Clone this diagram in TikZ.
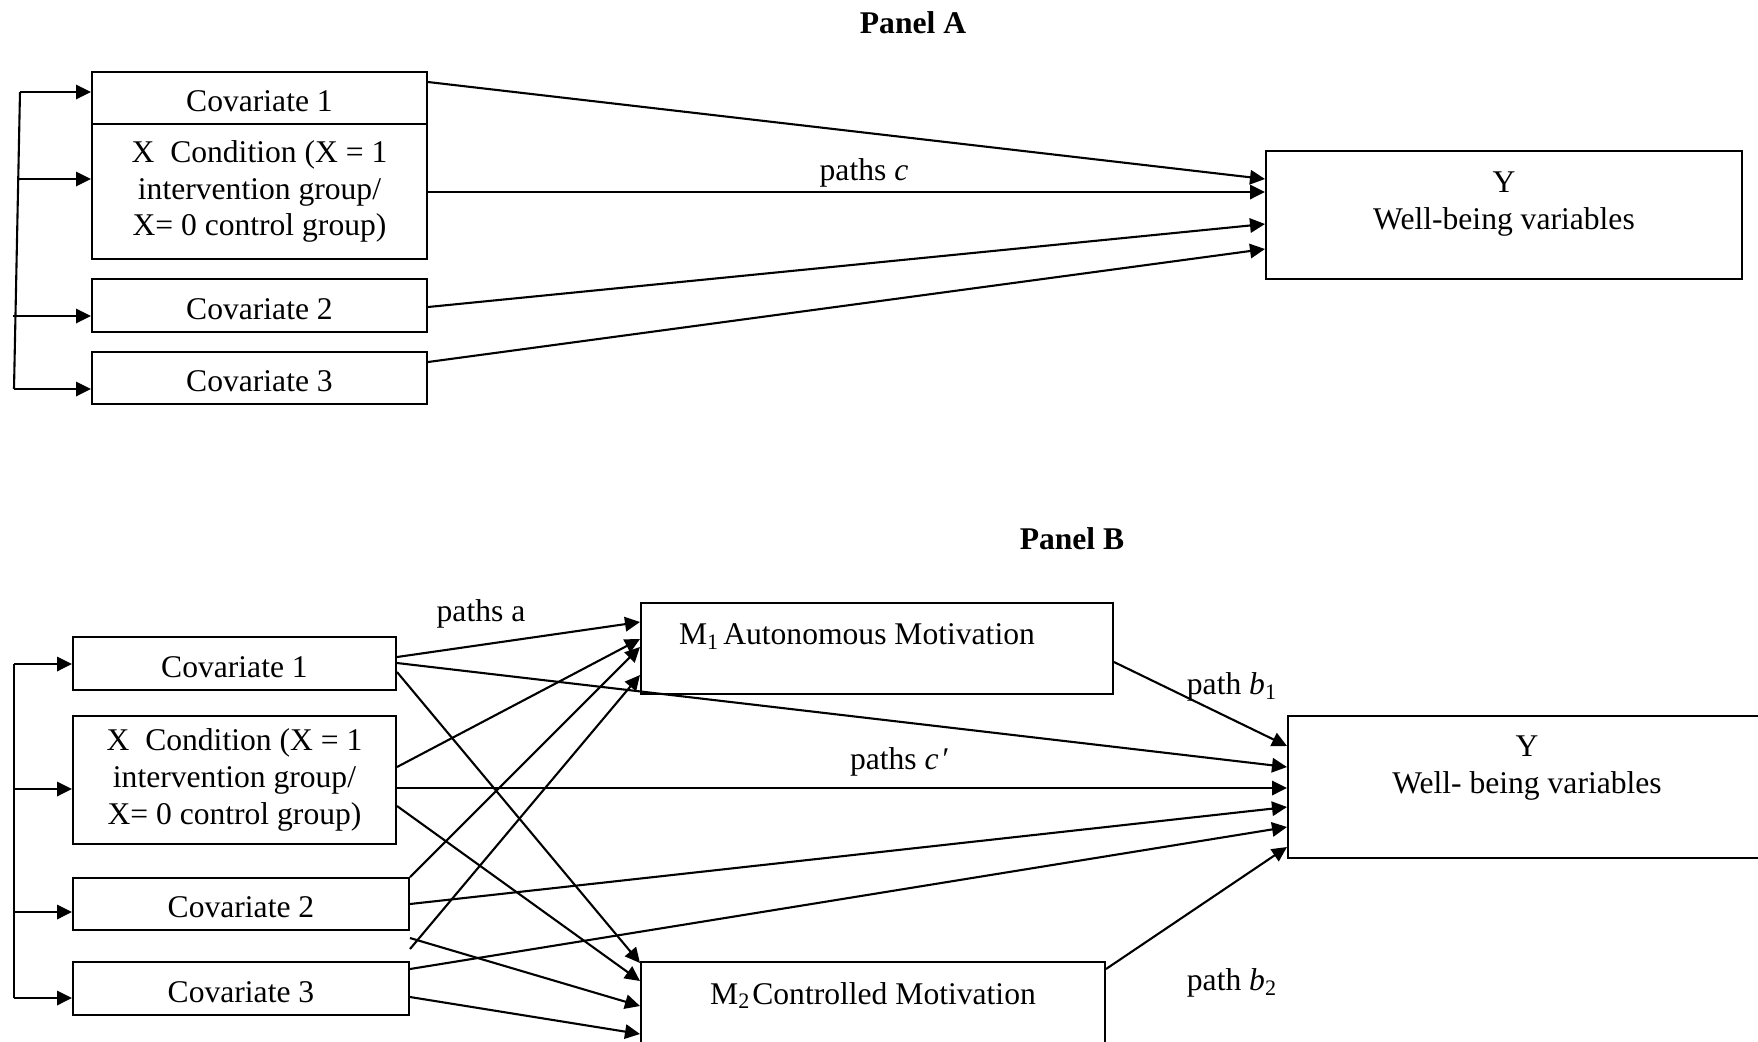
\documentclass[tikz,border=0pt]{standalone}
\usepackage{fontspec}
\setmainfont{Liberation Serif}
\usetikzlibrary{arrows.meta,calc}
\begin{document}
\begin{tikzpicture}[x=0.5pt,y=-0.5pt,
  txt/.style={font=\fontsize{15.8}{18.4}\selectfont},
  box/.style={draw,line width=1pt,inner sep=0pt,align=center,txt},
  oneline/.style={text height=14pt},
  lbl/.style={inner sep=0pt,align=center,txt},
  arr/.style={line width=1.05pt,-{Triangle[length=7.5pt,width=7.2pt]}},
  bus/.style={line width=1.05pt}]
\useasboundingbox (0,0) rectangle (1758,1041);
\clip (0,0) rectangle (1758,1041);

% ---------------- Panel A ----------------
\node[lbl,font=\fontsize{15.8}{18.4}\selectfont\bfseries] (pA) at (913,23) {Panel A};

\node[box,oneline,minimum width=167.5pt,minimum height=26pt] (c1a) at (259.5,98) {Covariate 1};
\node[box,minimum width=167.5pt,minimum height=67.5pt] (xa) at (259.5,191.5)
  {X\ \ Condition (X = 1\\intervention group/\\X= 0 control group)};
\node[box,oneline,minimum width=167.5pt,minimum height=26.5pt] (c2a) at (259.5,305.5) {Covariate 2};
\node[box,oneline,minimum width=167.5pt,minimum height=26pt] (c3a) at (259.5,378) {Covariate 3};
\node[box,minimum width=238pt,minimum height=64pt] (ya) at (1504,215) {};
\node[lbl] (yatxt) at (1504,204) {Y\\Well-being variables};

% common bus on the left
\coordinate (ba1) at (20,92);
\coordinate (ba2) at (19,179);
\coordinate (ba3) at (13,316);
\coordinate (ba4) at (14,389);
\draw[bus] (ba1) -- (ba4);
\draw[arr] (ba1) -- (c1a.west |- ba1);
\draw[arr] (ba2) -- (xa.west |- ba2);
\draw[arr] (ba3) -- (c2a.west |- ba3);
\draw[arr] (ba4) -- (c3a.west |- ba4);

% paths c
\draw[arr] ($(c1a.north east)+(0,11)$) -- ($(ya.north west)+(0,29)$);
\draw[arr] ($(xa.north east)+(0,69)$) -- ($(ya.north west)+(0,42)$);
\draw[arr] ($(c2a.north east)+(0,29)$) -- ($(ya.north west)+(0,74)$);
\draw[arr] ($(c3a.north east)+(0,11)$) -- ($(ya.north west)+(0,99)$);
\node[lbl] (pcA) at (864,173) {paths \textit{c}};

% ---------------- Panel B ----------------
\node[lbl,font=\fontsize{15.8}{18.4}\selectfont\bfseries] (pB) at (1072,539) {Panel B};

\node[box,oneline,minimum width=161.5pt,minimum height=26.5pt] (c1b) at (234.5,663.5) {Covariate 1};
\node[box,minimum width=161.5pt,minimum height=64pt] (xb) at (234.5,780)
  {X\ \ Condition (X = 1\\intervention group/\\X= 0 control group)};
\node[box,oneline,minimum width=168pt,minimum height=26pt] (c2b) at (241,904) {Covariate 2};
\node[box,oneline,minimum width=168pt,minimum height=26.5pt] (c3b) at (241,988.5) {Covariate 3};
\node[box,minimum width=236pt,minimum height=45.5pt] (m1) at (877,648.5) {};
\node[lbl] (m1txt) at (857,636.5) {M\textsubscript{1}\kern2pt Autonomous Motivation};
\node[box,minimum width=232pt,minimum height=45.5pt] (m2) at (873,1007.5) {};
\node[lbl] (m2txt) at (873,995.5) {M\textsubscript{2}\kern1pt Controlled Motivation};
\node[box,minimum width=239pt,minimum height=71pt] (yb) at (1527,787) {};
\node[lbl] (ybtxt) at (1527,768) {Y\\Well- being variables};

% common bus on the left
\coordinate (bb1) at (14,664);
\coordinate (bb2) at (14,789);
\coordinate (bb3) at (14,912);
\coordinate (bb4) at (14,998);
\draw[bus] (bb1) -- (bb4);
\draw[arr] (bb1) -- (c1b.west |- bb1);
\draw[arr] (bb2) -- (xb.west |- bb2);
\draw[arr] (bb3) -- (c2b.west |- bb3);
\draw[arr] (bb4) -- (c3b.west |- bb4);

% paths a: into M1
\draw[arr] ($(c1b.north east)+(0,21)$) -- ($(m1.north west)+(0,20)$);
\draw[arr] ($(xb.north east)+(0,52)$) -- ($(m1.north west)+(0,37)$);
\draw[arr] (c2b.north east) -- ($(m1.north west)+(0,45)$);
\draw[arr] ($(c3b.north east)+(0,-12)$) -- ($(m1.north west)+(0,73)$);

% paths a: into M2
\draw[arr] ($(c1b.north east)+(0,36)$) -- ($(m2.north west)+(0,2)$);
\draw[arr] ($(xb.north east)+(0,91)$) -- ($(m2.north west)+(0,20)$);
\draw[arr] ($(c2b.south east)+(0,7)$) -- ($(m2.north west)+(0,45)$);
\draw[arr] ($(c3b.north east)+(0,36)$) -- ($(m2.north west)+(0,73)$);

% paths c' and b: into Y
\draw[arr] ($(c1b.north east)+(0,27)$) -- ($(yb.north west)+(0,52)$);
\draw[arr] ($(xb.north east)+(0,73)$) -- ($(yb.north west)+(0,73)$);
\draw[arr] ($(c2b.north east)+(0,27)$) -- ($(yb.north west)+(0,92)$);
\draw[arr] ($(c3b.north east)+(0,8)$) -- ($(yb.north west)+(0,112)$);
\draw[arr] ($(m1.north east)+(0,60)$) -- ($(yb.north west)+(0,31)$);
\draw[arr] ($(m2.north east)+(0,8)$) -- ($(yb.north west)+(0,132)$);

\node[lbl] (pa) at (481,614) {paths a};
\node[lbl] (pcB) at (899,762) {paths \textit{c\kern1pt′}};
\node[lbl] (pb1) at (1232,687) {path \textit{b}\textsubscript{1}};
\node[lbl] (pb2) at (1232,983) {path \textit{b}\textsubscript{2}};
\end{tikzpicture}
\end{document}
